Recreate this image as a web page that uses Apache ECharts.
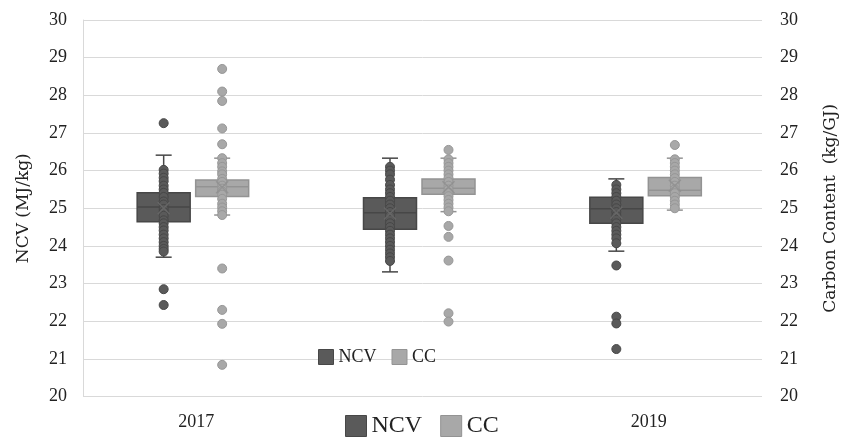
<!DOCTYPE html>
<html><head><meta charset="utf-8">
<script src="https://cdn.jsdelivr.net/npm/echarts@6/dist/echarts.min.js"></script>
<style>html,body{margin:0;padding:0;background:#fff}#c{width:843px;height:439px}</style>
</head><body><div id="c"></div>
<script>
const categories = ['2017', '2018', '2019'];
const yTicks = [20, 21, 22, 23, 24, 25, 26, 27, 28, 29, 30];
// box stats: [min, Q1, median, Q3, max]
const ncvBoxes = [
  [23.70, 24.64, 25.03, 25.41, 26.41],
  [23.31, 24.44, 24.88, 25.28, 26.33],
  [23.86, 24.60, 24.99, 25.29, 25.78]
];
const ccBoxes = [
  [24.82, 25.31, 25.57, 25.75, 26.33],
  [24.91, 25.37, 25.53, 25.78, 26.33],
  [24.95, 25.33, 25.48, 25.82, 26.33]
];
const ncvMeans = [25.00, 24.86, 24.88];
const ccMeans = [25.56, 25.56, 25.60];
const ncvPoints2017 = [27.26, 26.02, 25.92, 25.81, 25.72, 25.6, 25.5, 25.41, 25.3, 25.18, 25.1, 24.98, 24.9, 24.8, 24.68, 24.6, 24.5, 24.41, 24.3, 24.2, 24.1, 24.0, 23.92, 23.85, 22.85, 22.43];
const ccPoints2017 = [28.7, 28.1, 27.85, 27.12, 26.7, 26.33, 26.2, 26.1, 25.98, 25.9, 25.78, 25.7, 25.6, 25.52, 25.45, 25.36, 25.25, 25.12, 25.02, 24.92, 24.82, 23.4, 22.3, 21.93, 20.84];
const ncvPoints2018 = [26.1, 26.0, 25.9, 25.76, 25.62, 25.5, 25.4, 25.3, 25.2, 25.1, 25.0, 24.9, 24.8, 24.7, 24.6, 24.5, 24.4, 24.3, 24.2, 24.1, 24.0, 23.9, 23.8, 23.7, 23.6];
const ccPoints2018 = [26.55, 26.3, 26.2, 26.1, 26.0, 25.9, 25.8, 25.7, 25.6, 25.5, 25.42, 25.32, 25.22, 25.12, 25.02, 24.92, 24.53, 24.24, 23.61, 22.21, 21.99];
const ncvPoints2019 = [25.62, 25.5, 25.4, 25.3, 25.2, 25.1, 25.0, 24.9, 24.8, 24.7, 24.6, 24.5, 24.4, 24.3, 24.2, 24.07, 23.48, 22.12, 21.94, 21.26];
const ccPoints2019 = [26.68, 26.3, 26.2, 26.1, 26.0, 25.9, 25.8, 25.7, 25.6, 25.5, 25.4, 25.3, 25.2, 25.1, 25.0];

const ncvPoints = [ncvPoints2017, ncvPoints2018, ncvPoints2019];
const ccPoints = [ccPoints2017, ccPoints2018, ccPoints2019];

const NCV_FILL = '#5a5a5a', NCV_LINE = '#474747';
const CC_FILL = '#a8a8a8', CC_LINE = '#939393';
const NCV_OFF = -32.5, CC_OFF = 26;
const FONT = 'Liberation Serif';
const TITLE_FONT = 'DejaVu Serif';

function boxData(boxes) { return boxes.map((b, i) => [i].concat(b)); }
function pointData(lists) {
  const out = [];
  lists.forEach((arr, i) => arr.forEach(v => out.push([categories[i], v])));
  return out;
}
function makeBox(offset, fill, stroke) {
  return function (params, api) {
    const ci = api.value(0);
    const p = k => api.coord([ci, api.value(k)]);
    const pMin = p(1), pQ1 = p(2), pMed = p(3), pQ3 = p(4), pMax = p(5);
    const cx = pMin[0] + offset;
    const hw = 26.5, cap = 8;
    const ls = { stroke: stroke, lineWidth: 1.5 };
    return { type: 'group', children: [
      { type: 'line', shape: { x1: cx, y1: pMax[1], x2: cx, y2: pQ3[1] }, style: ls },
      { type: 'line', shape: { x1: cx, y1: pQ1[1], x2: cx, y2: pMin[1] }, style: ls },
      { type: 'line', shape: { x1: cx - cap, y1: pMax[1], x2: cx + cap, y2: pMax[1] }, style: ls },
      { type: 'line', shape: { x1: cx - cap, y1: pMin[1], x2: cx + cap, y2: pMin[1] }, style: ls },
      { type: 'rect', shape: { x: cx - hw, y: pQ3[1], width: 2 * hw, height: pQ1[1] - pQ3[1] }, style: { fill: fill, stroke: stroke, lineWidth: 1.5 } },
      { type: 'line', shape: { x1: cx - hw, y1: pMed[1], x2: cx + hw, y2: pMed[1] }, style: ls }
    ] };
  };
}

const chart = echarts.init(document.getElementById('c'));
chart.setOption({
  animation: false,
  textStyle: { fontFamily: FONT },
  grid: { left: 83, right: 81, top: 20, bottom: 42.5, containLabel: false, outerBoundsMode: 'none' },
  legend: [
    { left: 318, top: 348, padding: 0, itemWidth: 15, itemHeight: 15, itemGap: 15, icon: 'rect',
      textStyle: { fontFamily: FONT, fontSize: 18, color: '#222' },
      data: [
        { name: 'NCV', itemStyle: { color: NCV_FILL, borderColor: NCV_LINE, borderWidth: 1 } },
        { name: 'CC', itemStyle: { color: CC_FILL, borderColor: CC_LINE, borderWidth: 1 } }
      ] },
    { left: 345, top: 414, padding: 0, itemWidth: 21, itemHeight: 21, itemGap: 18, icon: 'rect',
      textStyle: { fontFamily: FONT, fontSize: 24, color: '#222' },
      data: [
        { name: 'NCV', itemStyle: { color: NCV_FILL, borderColor: NCV_LINE, borderWidth: 1 } },
        { name: 'CC', itemStyle: { color: CC_FILL, borderColor: CC_LINE, borderWidth: 1 } }
      ] }
  ],
  xAxis: {
    type: 'category', data: categories,
    axisLine: { show: false }, axisTick: { show: false },
    axisLabel: { fontFamily: FONT, fontSize: 18, color: '#222', margin: 17,
      formatter: v => v === '2018' ? '' : v }
  },
  yAxis: [
    { type: 'value', min: yTicks[0], max: yTicks[yTicks.length - 1], interval: 1, position: 'left',
      name: 'NCV (MJ/kg)', nameLocation: 'middle', nameGap: 51, nameRotate: 90,
      nameTextStyle: { fontFamily: TITLE_FONT, fontSize: 17, color: '#222' },
      axisLine: { show: true, lineStyle: { color: '#d9d9d9' } }, axisTick: { show: false },
      axisLabel: { fontFamily: FONT, fontSize: 18, color: '#222', margin: 16 },
      splitLine: { lineStyle: { color: '#d9d9d9', width: 1 } } },
    { type: 'value', min: yTicks[0], max: yTicks[yTicks.length - 1], interval: 1, position: 'right',
      name: 'Carbon Content  (kg/GJ)', nameLocation: 'middle', nameGap: 60, nameRotate: 90,
      nameTextStyle: { fontFamily: TITLE_FONT, fontSize: 17, color: '#222' },
      axisLine: { show: false }, axisTick: { show: false },
      axisLabel: { fontFamily: FONT, fontSize: 18, color: '#222', margin: 18 },
      splitLine: { show: false } }
  ],
  series: [
    { name: 'NCV', type: 'custom', renderItem: makeBox(NCV_OFF, NCV_FILL, NCV_LINE),
      data: boxData(ncvBoxes), encode: { x: 0, y: [1, 2, 3, 4, 5] }, z: 2,
      itemStyle: { color: NCV_FILL } },
    { name: 'CC', type: 'custom', renderItem: makeBox(CC_OFF, CC_FILL, CC_LINE),
      data: boxData(ccBoxes), encode: { x: 0, y: [1, 2, 3, 4, 5] }, z: 2,
      itemStyle: { color: CC_FILL } },
    { name: 'NCV', type: 'scatter', data: pointData(ncvPoints), symbolSize: 9,
      symbolOffset: [NCV_OFF, 0], z: 3,
      itemStyle: { color: NCV_FILL, borderColor: '#474747', borderWidth: 1, opacity: 1 } },
    { name: 'CC', type: 'scatter', data: pointData(ccPoints), symbolSize: 9,
      symbolOffset: [CC_OFF, 0], z: 3,
      itemStyle: { color: CC_FILL, borderColor: '#969696', borderWidth: 1, opacity: 1 } },
    { name: 'NCV', type: 'scatter', data: ncvMeans.map((v, i) => [categories[i], v]),
      symbol: 'path://M0,0L10,10M10,0L0,10', symbolSize: 12, symbolOffset: [NCV_OFF, 0], z: 4,
      itemStyle: { color: 'none', borderColor: '#6a6a6a', borderWidth: 1.5 } },
    { name: 'CC', type: 'scatter', data: ccMeans.map((v, i) => [categories[i], v]),
      symbol: 'path://M0,0L10,10M10,0L0,10', symbolSize: 12, symbolOffset: [CC_OFF, 0], z: 4,
      itemStyle: { color: 'none', borderColor: '#8f8f8f', borderWidth: 1.5 } }
  ]
});
</script></body></html>
